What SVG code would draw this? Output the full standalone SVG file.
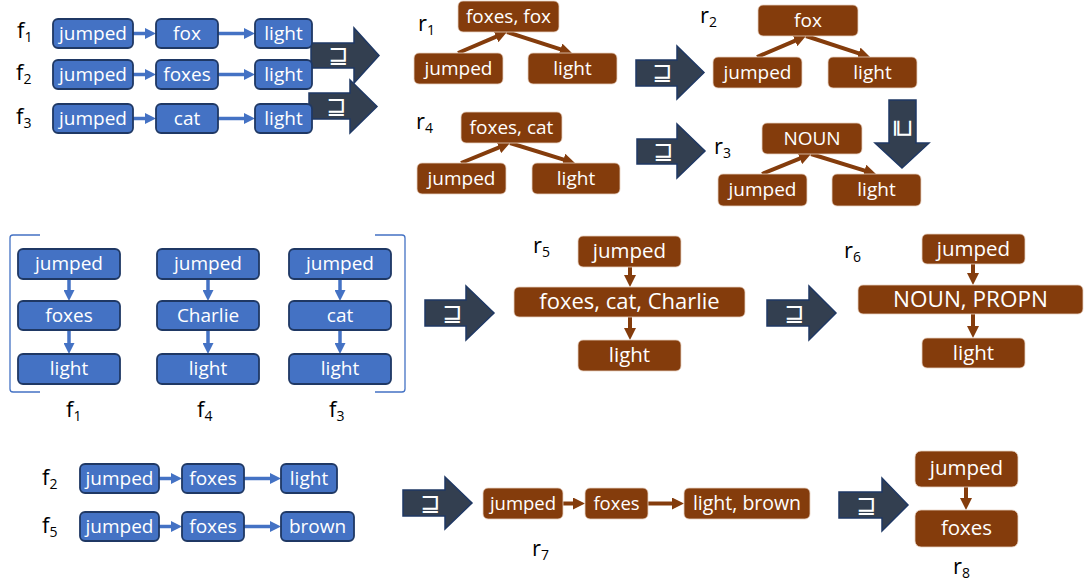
<svg xmlns="http://www.w3.org/2000/svg" width="1085" height="583" viewBox="0 0 1085 583">
<style>
.bn{fill:#4472C4;stroke:#1F3864;stroke-width:1.8}
.on{fill:#843C0C;stroke:#E9D2C2;stroke-width:0.8}
.t{font-family:"Open Sans","DejaVu Sans",sans-serif;fill:#FFFFFF;text-anchor:middle}
.tb{font-size:19px}
.to{font-size:19px}
.lab{font-family:"Open Sans","DejaVu Sans",sans-serif;fill:#000000;font-size:22px}
.big{fill:#333F50;stroke:#1F3864;stroke-width:1.5}
.sym{font-family:"DejaVu Sans",sans-serif;fill:#FFFFFF;font-size:24px;text-anchor:middle}
.cb{stroke:#4472C4;stroke-width:3.5;fill:none;marker-end:url(#ab)}
.co{stroke:#843C0C;stroke-width:4;fill:none;marker-end:url(#ao)}
.br{stroke:#4472C4;stroke-width:1.3;fill:none}
</style>
<defs>
<marker id="ab" viewBox="0 0 11 11" markerWidth="11" markerHeight="11" refX="1" refY="5.5" orient="auto" markerUnits="userSpaceOnUse"><path d="M0,0 L11,5.5 L0,11 z" fill="#4472C4"/></marker>
<marker id="ao" viewBox="0 0 12 12" markerWidth="12" markerHeight="12" refX="1" refY="6" orient="auto" markerUnits="userSpaceOnUse"><path d="M0,0 L12,6 L0,12 z" fill="#843C0C"/></marker>
</defs>

<!-- labels -->
<g id="labels">
<text class="lab" x="17" y="38">f<tspan font-size="14" dy="4">1</tspan></text>
<text class="lab" x="16" y="80">f<tspan font-size="14" dy="4">2</tspan></text>
<text class="lab" x="16" y="124">f<tspan font-size="14" dy="4">3</tspan></text>
<text class="lab" x="418" y="31">r<tspan font-size="14" dy="4">1</tspan></text>
<text class="lab" x="416" y="129">r<tspan font-size="14" dy="4">4</tspan></text>
<text class="lab" x="700" y="23">r<tspan font-size="14" dy="4">2</tspan></text>
<text class="lab" x="714" y="154">r<tspan font-size="14" dy="4">3</tspan></text>
<text class="lab" x="66" y="417">f<tspan font-size="14" dy="4">1</tspan></text>
<text class="lab" x="197" y="417">f<tspan font-size="14" dy="4">4</tspan></text>
<text class="lab" x="329" y="417">f<tspan font-size="14" dy="4">3</tspan></text>
<text class="lab" x="533" y="253">r<tspan font-size="14" dy="4">5</tspan></text>
<text class="lab" x="844" y="258">r<tspan font-size="14" dy="4">6</tspan></text>
<text class="lab" x="42" y="485">f<tspan font-size="14" dy="4">2</tspan></text>
<text class="lab" x="42" y="533">f<tspan font-size="14" dy="4">5</tspan></text>
<text class="lab" x="532" y="556">r<tspan font-size="14" dy="4">7</tspan></text>
<text class="lab" x="953" y="574">r<tspan font-size="14" dy="4">8</tspan></text>
</g>

<!-- big arrows -->
<g id="bigarrows">
<path class="big" d="M311,43 H354 V28 L379,55.5 L354,83 V68 H311 Z"/>
<text class="sym" x="338" y="63">⊒</text>
<path class="big" d="M309,93 H350 V80 L377,106.5 L350,133 V119 H309 Z"/>
<text class="sym" x="336" y="114">⊒</text>
<path class="big" d="M636,60 H677 V46 L704,72.5 L677,99 V86 H636 Z"/>
<text class="sym" x="662" y="80">⊒</text>
<path class="big" d="M637,139 H677 V124 L705,151 L677,178 V164 H637 Z"/>
<text class="sym" x="663" y="159">⊒</text>
<path class="big" d="M889,100 H916 V143 H929 L902,168 L875,143 H889 Z"/>
<text class="sym" x="903" y="135" transform="rotate(90 903 128)">⊒</text>
<path class="big" d="M425,300 H466 V286 L494,313 L466,340 V326 H425 Z"/>
<text class="sym" x="452" y="321">⊒</text>
<path class="big" d="M767,300 H809 V286 L836,313 L809,340 V326 H767 Z"/>
<text class="sym" x="794" y="321">⊒</text>
<path class="big" d="M403,490 H445 V477 L472,503 L445,529 V516 H403 Z"/>
<text class="sym" x="430" y="511">⊒</text>
<path class="big" d="M839,492 H882 V478 L908,505 L882,531 V518 H839 Z"/>
<text class="sym" x="866" y="513">⊒</text>
</g>

<!-- bracket -->
<g id="bracket">
<path class="br" d="M40,235 H13 Q10,235 10,238 V389 Q10,392 13,392 H40"/>
<path class="br" d="M375,235 H402 Q405,235 405,238 V389 Q405,392 402,392 H375"/>
</g>

<!-- connectors -->
<g id="connectors">
<path class="cb" d="M133,33.5 H146"/>
<path class="cb" d="M218,33.5 H245"/>
<path class="cb" d="M133,74.5 H146"/>
<path class="cb" d="M218,74.5 H245"/>
<path class="cb" d="M133,118.5 H146"/>
<path class="cb" d="M218,118.5 H245"/>
<path class="cb" d="M69,279 V291"/>
<path class="cb" d="M69,330 V344"/>
<path class="cb" d="M208,279 V291"/>
<path class="cb" d="M208,330 V344"/>
<path class="cb" d="M340,279 V291"/>
<path class="cb" d="M340,330 V344"/>
<path class="cb" d="M159,478.5 H172"/>
<path class="cb" d="M244,478.5 H271"/>
<path class="cb" d="M159,526.5 H172"/>
<path class="cb" d="M244,526.5 H271"/>
<path class="co" d="M458,53 L496.9,36.3"/>
<path class="co" d="M507,32 L561.5,49.6"/>
<path class="co" d="M461,163 L499.8,147.2"/>
<path class="co" d="M510,143 L564.5,159.8"/>
<path class="co" d="M757,57 L795.9,40.3"/>
<path class="co" d="M806,36 L859.6,53.6"/>
<path class="co" d="M762,174 L800.8,158.2"/>
<path class="co" d="M811,154 L865.5,170.8"/>
<path class="co" d="M630,267 V276"/>
<path class="co" d="M630,317 V329"/>
<path class="co" d="M973,264 V274"/>
<path class="co" d="M973,314 V327"/>
<path class="co" d="M563,503.5 H574"/>
<path class="co" d="M648,503.5 H673"/>
<path class="co" d="M966,487 V499"/>
</g>

<!-- f rows top -->
<g id="f1a-jumped"><rect class="bn" x="53" y="19" width="80" height="29" rx="5"/><text class="t tb" x="93" y="39.5">jumped</text></g>
<g id="f1a-fox"><rect class="bn" x="156" y="19" width="62" height="29" rx="5"/><text class="t tb" x="187" y="39.5">fox</text></g>
<g id="f1a-light"><rect class="bn" x="255" y="19" width="57" height="29" rx="5"/><text class="t tb" x="283.5" y="39.5">light</text></g>
<g id="f2a-jumped"><rect class="bn" x="53" y="60" width="80" height="29" rx="5"/><text class="t tb" x="93" y="80.5">jumped</text></g>
<g id="f2a-foxes"><rect class="bn" x="156" y="60" width="62" height="29" rx="5"/><text class="t tb" x="187" y="80.5">foxes</text></g>
<g id="f2a-light"><rect class="bn" x="255" y="60" width="57" height="29" rx="5"/><text class="t tb" x="283.5" y="80.5">light</text></g>
<g id="f3a-jumped"><rect class="bn" x="53" y="104" width="80" height="29" rx="5"/><text class="t tb" x="93" y="124.5">jumped</text></g>
<g id="f3a-cat"><rect class="bn" x="156" y="104" width="62" height="29" rx="5"/><text class="t tb" x="187" y="124.5">cat</text></g>
<g id="f3a-light"><rect class="bn" x="255" y="104" width="57" height="29" rx="5"/><text class="t tb" x="283.5" y="124.5">light</text></g>

<!-- r1 -->
<g id="r1-top"><rect class="on" x="458" y="1" width="101" height="31" rx="5"/><text class="t to" x="508.5" y="22.5">foxes, fox</text></g>
<g id="r1-jumped"><rect class="on" x="414" y="53" width="89" height="31" rx="5"/><text class="t to" x="458.5" y="74.5">jumped</text></g>
<g id="r1-light"><rect class="on" x="528" y="53" width="89" height="31" rx="5"/><text class="t to" x="572.5" y="74.5">light</text></g>
<!-- r4 -->
<g id="r4-top"><rect class="on" x="461" y="112" width="101" height="31" rx="5"/><text class="t to" x="511.5" y="133.5">foxes, cat</text></g>
<g id="r4-jumped"><rect class="on" x="417" y="163" width="89" height="31" rx="5"/><text class="t to" x="461.5" y="184.5">jumped</text></g>
<g id="r4-light"><rect class="on" x="532" y="163" width="88" height="31" rx="5"/><text class="t to" x="576" y="184.5">light</text></g>
<!-- r2 -->
<g id="r2-top"><rect class="on" x="758" y="5" width="100" height="31" rx="5"/><text class="t to" x="808" y="26.5">fox</text></g>
<g id="r2-jumped"><rect class="on" x="713" y="57" width="89" height="31" rx="5"/><text class="t to" x="757.5" y="78.5">jumped</text></g>
<g id="r2-light"><rect class="on" x="828" y="57" width="89" height="31" rx="5"/><text class="t to" x="872.5" y="78.5">light</text></g>
<!-- r3 -->
<g id="r3-top"><rect class="on" x="762" y="123" width="100" height="31" rx="5"/><text class="t to" x="812" y="144.5">NOUN</text></g>
<g id="r3-jumped"><rect class="on" x="718" y="174" width="89" height="32" rx="5"/><text class="t to" x="762.5" y="196">jumped</text></g>
<g id="r3-light"><rect class="on" x="832" y="174" width="89" height="32" rx="5"/><text class="t to" x="876.5" y="196">light</text></g>

<!-- middle f columns -->
<g id="f1b-jumped"><rect class="bn" x="18" y="249" width="102" height="30" rx="5"/><text class="t tb" x="69" y="270">jumped</text></g>
<g id="f1b-foxes"><rect class="bn" x="18" y="301" width="102" height="29" rx="5"/><text class="t tb" x="69" y="321.5">foxes</text></g>
<g id="f1b-light"><rect class="bn" x="18" y="354" width="102" height="30" rx="5"/><text class="t tb" x="69" y="375">light</text></g>
<g id="f4b-jumped"><rect class="bn" x="157" y="249" width="102" height="30" rx="5"/><text class="t tb" x="208" y="270">jumped</text></g>
<g id="f4b-charlie"><rect class="bn" x="157" y="301" width="102" height="29" rx="5"/><text class="t tb" x="208" y="321.5">Charlie</text></g>
<g id="f4b-light"><rect class="bn" x="157" y="354" width="102" height="30" rx="5"/><text class="t tb" x="208" y="375">light</text></g>
<g id="f3b-jumped"><rect class="bn" x="289" y="249" width="102" height="30" rx="5"/><text class="t tb" x="340" y="270">jumped</text></g>
<g id="f3b-cat"><rect class="bn" x="289" y="301" width="102" height="29" rx="5"/><text class="t tb" x="340" y="321.5">cat</text></g>
<g id="f3b-light"><rect class="bn" x="289" y="354" width="102" height="30" rx="5"/><text class="t tb" x="340" y="375">light</text></g>

<!-- r5 -->
<g id="r5-jumped"><rect class="on" x="578" y="236" width="103" height="31" rx="5"/><text class="t" font-size="20.5" x="629.5" y="258">jumped</text></g>
<g id="r5-mid"><rect class="on" x="514" y="287" width="231" height="30" rx="5"/><text class="t" font-size="22" x="629.5" y="309">foxes, cat, Charlie</text></g>
<g id="r5-light"><rect class="on" x="578" y="340" width="103" height="31" rx="5"/><text class="t" font-size="20.5" x="629.5" y="362">light</text></g>
<!-- r6 -->
<g id="r6-jumped"><rect class="on" x="922" y="234" width="103" height="30" rx="5"/><text class="t" font-size="20.5" x="973.5" y="255.5">jumped</text></g>
<g id="r6-mid"><rect class="on" x="858" y="285" width="225" height="29" rx="5"/><text class="t" font-size="22.5" x="970.5" y="307">NOUN, PROPN</text></g>
<g id="r6-light"><rect class="on" x="922" y="338" width="103" height="30" rx="5"/><text class="t" font-size="20.5" x="973.5" y="359.5">light</text></g>

<!-- bottom f rows -->
<g id="f2c-jumped"><rect class="bn" x="80" y="464" width="79" height="29" rx="5"/><text class="t tb" x="119.5" y="484.5">jumped</text></g>
<g id="f2c-foxes"><rect class="bn" x="182" y="464" width="62" height="29" rx="5"/><text class="t tb" x="213" y="484.5">foxes</text></g>
<g id="f2c-light"><rect class="bn" x="281" y="464" width="56" height="29" rx="5"/><text class="t tb" x="309" y="484.5">light</text></g>
<g id="f5c-jumped"><rect class="bn" x="80" y="512" width="79" height="29" rx="5"/><text class="t tb" x="119.5" y="532.5">jumped</text></g>
<g id="f5c-foxes"><rect class="bn" x="182" y="512" width="62" height="29" rx="5"/><text class="t tb" x="213" y="532.5">foxes</text></g>
<g id="f5c-brown"><rect class="bn" x="281" y="512" width="73" height="29" rx="5"/><text class="t tb" x="317.5" y="532.5">brown</text></g>

<!-- r7 -->
<g id="r7-jumped"><rect class="on" x="483" y="488" width="80" height="31" rx="5"/><text class="t" font-size="18.5" x="523" y="509.5">jumped</text></g>
<g id="r7-foxes"><rect class="on" x="585" y="488" width="63" height="31" rx="5"/><text class="t" font-size="18.5" x="616.5" y="509.5">foxes</text></g>
<g id="r7-lightbrown"><rect class="on" x="684" y="488" width="126" height="31" rx="5"/><text class="t" font-size="19.5" x="747" y="509.5">light, brown</text></g>
<!-- r8 -->
<g id="r8-jumped"><rect class="on" x="915" y="451" width="103" height="36" rx="6"/><text class="t" font-size="20.5" x="966.5" y="475">jumped</text></g>
<g id="r8-foxes"><rect class="on" x="915" y="510" width="103" height="37" rx="6"/><text class="t" font-size="20.5" x="966.5" y="534.5">foxes</text></g>
</svg>
